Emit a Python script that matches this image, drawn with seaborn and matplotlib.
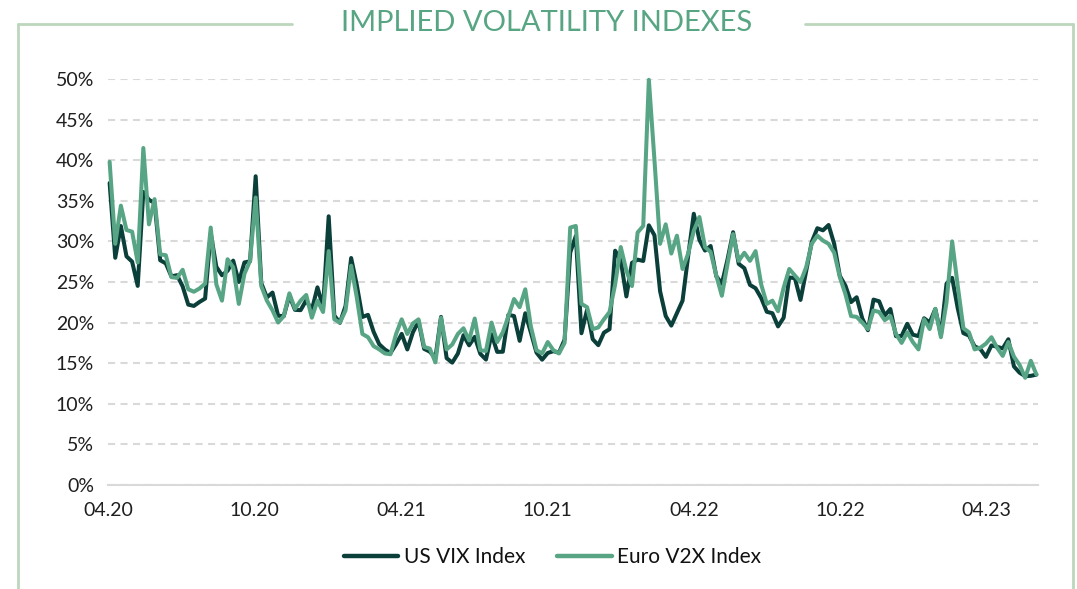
import pandas as pd
import seaborn as sns
import matplotlib.pyplot as plt
from matplotlib.lines import Line2D


# Weekly closes (%), first week of May 2020 to end of June 2023
vix = [37.19, 27.98, 31.89, 28.16, 27.51, 24.52, 36.09, 35.12, 34.73, 27.68,
       27.29, 25.68, 25.84, 24.46, 22.21, 22.05, 22.54, 22.96, 31.0, 26.87,
       25.83, 26.38, 27.63, 25.00, 27.41, 27.55, 38.02, 24.86, 23.10, 23.70,
       20.84, 20.79, 23.31, 21.57, 21.53, 22.75, 21.56, 24.34, 21.91, 33.09,
       20.87, 19.97, 22.05, 27.95, 24.66, 20.69, 20.95, 18.86, 17.33, 16.69,
       16.25, 17.33, 18.61, 16.69, 18.81, 20.15, 16.76, 16.42, 15.65, 20.70,
       15.62, 15.07, 16.18, 18.45, 17.20, 18.24, 16.15, 15.45, 18.56, 16.39,
       16.41, 20.95, 20.81, 17.75, 21.15, 18.77, 16.30, 15.43, 16.26, 16.48,
       16.29, 17.91, 28.62, 30.67, 18.69, 21.57, 17.96, 17.22, 18.76, 19.19,
       28.85, 27.66, 23.22, 27.36, 27.75, 27.59, 31.98, 30.75, 23.87, 20.81,
       19.63, 21.16, 22.70, 28.21, 33.40, 30.19, 28.87, 29.43, 25.72, 24.79,
       27.75, 31.13, 27.23, 26.70, 24.64, 24.23, 23.03, 21.33, 21.15, 19.53,
       20.60, 25.56, 25.47, 22.79, 26.30, 29.92, 31.62, 31.36, 32.02, 29.69,
       25.75, 24.55, 22.52, 23.12, 20.50, 19.06, 22.83, 22.62, 20.87, 21.67,
       18.33, 18.35, 19.85, 18.51, 18.33, 20.53, 20.02, 21.67, 18.49, 24.80,
       25.51, 21.74, 18.70, 18.40, 17.07, 16.77, 15.78, 17.19, 17.03, 16.81,
       17.95, 14.60, 13.83, 13.40, 13.44, 13.59]

v2x = [39.8, 29.7, 34.4, 31.4, 31.2, 27.4, 41.5, 32.1, 35.2, 28.4,
       28.3, 25.6, 25.5, 26.5, 24.1, 23.8, 24.2, 24.8, 31.7, 24.7,
       22.7, 27.8, 26.8, 22.3, 26.0, 27.6, 35.4, 24.5, 22.7, 21.5,
       20.0, 20.8, 23.6, 21.7, 22.7, 23.4, 20.6, 22.7, 21.3, 28.8,
       20.4, 20.0, 21.5, 27.0, 23.1, 18.6, 18.2, 17.1, 16.7, 16.2,
       16.1, 18.6, 20.4, 18.6, 19.9, 20.4, 17.0, 16.8, 15.1, 20.6,
       16.7, 17.3, 18.6, 19.3, 17.8, 20.5, 16.6, 16.5, 20.0, 17.6,
       18.8, 20.8, 22.9, 21.9, 24.1, 19.5, 16.6, 16.2, 17.6, 16.6,
       16.2, 17.5, 31.7, 31.9, 22.3, 21.9, 19.2, 19.4, 20.4, 21.3,
       24.7, 29.3, 26.4, 24.5, 31.1, 31.9, 49.9, 40.0, 29.7, 32.1,
       28.5, 30.7, 26.6, 28.5, 31.3, 33.0, 29.3, 28.7, 25.8, 23.3,
       27.2, 30.9, 27.6, 28.6, 27.6, 28.8, 24.7, 22.3, 22.7, 21.4,
       24.3, 26.6, 25.8, 25.0, 26.8, 29.7, 30.7, 30.1, 29.7, 28.6,
       25.6, 23.5, 20.8, 20.7, 20.0, 19.2, 21.5, 21.3, 20.3, 20.8,
       18.6, 17.5, 18.8, 17.6, 16.7, 20.4, 19.2, 21.7, 18.2, 22.5,
       30.0, 24.5, 19.3, 18.8, 16.7, 16.9, 17.4, 18.2, 16.9, 15.9,
       17.6, 15.8, 14.8, 13.2, 15.3, 13.6]

dates = pd.date_range('2020-05-01', periods=len(vix), freq='W-FRI')

series_names = ['US VIX Index', 'Euro V2X Index']
colors = ['#0b3f3a', '#58a586']

tick_dates = pd.to_datetime(['2020-04-29', '2020-10-29', '2021-04-29', '2021-10-29',
                             '2022-04-29', '2022-10-29', '2023-04-29'])
tick_labels = ['04.20', '10.20', '04.21', '10.21', '04.22', '10.22', '04.23']
y_ticks = list(range(0, 51, 5))

df = pd.DataFrame({
    'Date': list(dates) * 2,
    'Value': vix + v2x,
    'Series': [series_names[0]] * len(vix) + [series_names[1]] * len(v2x),
})

# Style
sns.set_style('white')
plt.rcParams['font.family'] = ['Lato', 'DejaVu Sans']

fig = plt.figure(figsize=(10.77, 5.89), dpi=100)
ax = fig.add_axes([0.1003, 0.1766, 0.8635, 0.6893])

sns.lineplot(data=df, x='Date', y='Value', hue='Series', hue_order=series_names,
             palette=dict(zip(series_names, colors)), linewidth=2.9, ax=ax)

for line in ax.lines:
    line.set_solid_joinstyle('round')
    line.set_solid_capstyle('round')
    line.set_clip_on(False)

# Axes
ax.set_xlim(pd.Timestamp('2020-04-29'), pd.Timestamp('2023-07-02'))
ax.set_ylim(0, 50)
ax.set_yticks(y_ticks)
ax.set_yticklabels([f'{v}%' for v in y_ticks])
ax.set_xticks(tick_dates)
ax.set_xticklabels(tick_labels)
ax.set_xlabel('')
ax.set_ylabel('')

ax.yaxis.grid(True, color='#d9d9d9', linestyle=(0, (3.4, 2.6)), linewidth=1.5)
ax.set_axisbelow(True)
for side in ['top', 'right', 'left']:
    ax.spines[side].set_visible(False)
ax.spines['bottom'].set_color('#d9d9d9')
ax.spines['bottom'].set_linewidth(1.5)

ax.tick_params(axis='y', length=0, pad=10, labelsize=14, labelcolor='#1f1f1f')
ax.tick_params(axis='x', length=5, width=1, color='#c8c8c8', pad=7, labelsize=14, labelcolor='#1f1f1f')

# Legend at bottom
handles, labels = ax.get_legend_handles_labels()
ax.get_legend().remove()
leg = fig.legend(handles, labels, loc='center', bbox_to_anchor=(0.513, 0.054), ncol=2,
                 frameon=False, fontsize=15, handlelength=2.6, handletextpad=0.25,
                 columnspacing=1.55)
for h in leg.legend_handles:
    h.set_linewidth(3.2)
for t in leg.get_texts():
    t.set_color('#111111')

# Title
fig.text(0.508, 0.961, 'IMPLIED VOLATILITY INDEXES', ha='center', va='center',
         fontsize=21, color='#58a583', fontweight='normal')

# Frame with a gap around the title
frame_color = '#bcd6bc'
W, H = 1077, 589
frame_lines = [
    ([18, 18], [24, 589]),
    ([1073, 1073], [24, 589]),
    ([18, 292], [24, 24]),
    ([805, 1073], [24, 24]),
]
for xs, ys in frame_lines:
    fig.add_artist(Line2D([x / W for x in xs], [1 - y / H for y in ys],
                          color=frame_color, linewidth=2))

plt.savefig('out.png', dpi=100)
